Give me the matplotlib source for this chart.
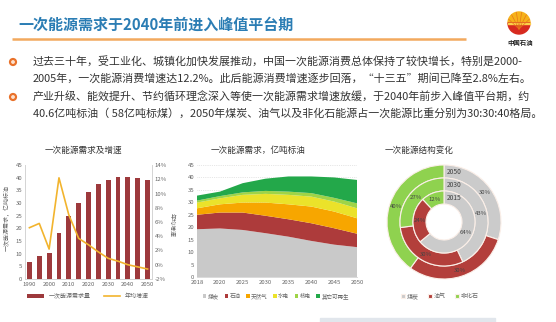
import matplotlib
matplotlib.use("Agg")
import matplotlib.pyplot as plt
from matplotlib.patches import Circle, Wedge, Rectangle
import numpy as np

plt.rcParams['font.family'] = ['Noto Sans CJK SC', 'DejaVu Sans']
plt.rcParams['axes.unicode_minus'] = False

W, H = 556, 322

# --- texts
title = "一次能源需求于2040年前进入峰值平台期"
bullet_lines = [
    "过去三十年，受工业化、城镇化加快发展推动，中国一次能源消费总体保持了较快增长，特别是2000-",
    "2005年，一次能源消费增速达12.2%。此后能源消费增速逐步回落，“十三五”期间已降至2.8%左右。",
    "产业升级、能效提升、节约循环理念深入等使一次能源需求增速放缓，于2040年前步入峰值平台期，约",
    "40.6亿吨标油（ 58亿吨标煤），2050年煤炭、油气以及非化石能源占一次能源比重分别为30:30:40格局。",
]
sub_titles = ["一次能源需求及增速", "一次能源需求，亿吨标油", "一次能源结构变化"]

# --- chart 1: demand bars + growth line
years1 = ['1990', '1995', '2000', '2005', '2010', '2015', '2020',
          '2025', '2030', '2035', '2040', '2045', '2050']
demand = [6.8, 9.1, 10.1, 18.3, 25.0, 30.1, 34.5, 37.5, 39.1, 40.4, 40.4, 40.0, 39.1]
growth = [5.2, 5.8, 2.2, 12.2, 7.0, 3.7, 2.8, 1.8, 0.9, 0.5, 0.0, -0.3, -0.6]

# --- chart 2: demand by source (stacked)
years2 = ['2018', '2020', '2025', '2030', '2035', '2040', '2045', '2050']
coal = [19.2, 19.5, 18.9, 17.6, 16.2, 14.5, 13.0, 12.0]
oil = [5.8, 6.4, 7.0, 7.0, 7.0, 7.1, 6.6, 5.4]
gas = [2.6, 3.3, 4.0, 5.3, 6.0, 6.7, 6.7, 6.2]
hydro = [2.3, 2.4, 3.1, 3.5, 3.8, 4.0, 4.0, 4.0]
nuclear = [0.8, 0.9, 1.0, 1.2, 1.3, 1.4, 1.5, 2.0]
renew = [2.0, 1.8, 3.7, 4.9, 6.1, 6.7, 8.2, 9.4]
source_labels = ['煤炭', '石油', '天然气', '水电', '核电', '其它可再生']
source_colors = ['#c9c9c9', '#ad3b3b', '#f7a600', '#ebe22a', '#9fd447', '#23a84a']

# --- chart 3: structure rings
ring_years = ['2050', '2030', '2015']
share_2050 = [30, 30, 40]
share_2030 = [43, 30, 27]
share_2015 = [64, 24, 12]
mix_labels = ['煤炭', '油气', '非化石']
mix_colors = ['#cbcbcb', '#b33f3b', '#8fd24f']

tick_col = '#666666'
spine_col = '#d4d4d4'


def rect(x0, y0, x1, y1):
    return [x0 / W, 1 - y1 / H, (x1 - x0) / W, (y1 - y0) / H]


fig = plt.figure(figsize=(W / 100, H / 100), dpi=100)
fig.patch.set_facecolor('white')

# background layer in pixel coordinates
bg = fig.add_axes([0, 0, 1, 1])
bg.set_xlim(0, W)
bg.set_ylim(H, 0)
bg.axis('off')

bg.text(18, 25, title, fontsize=10.8, fontweight='bold', color='#2b7db4', va='center')
bg.plot([12, 466], [39, 39], color='#f2a95e', lw=1.8, solid_capstyle='butt')

# logo
bg.add_patch(Wedge((519, 23), 11, 180, 360, color='#f6b21a'))
bg.add_patch(Wedge((519, 23), 11, 0, 180, color='#d72a1f'))
for ang in np.linspace(200, 340, 6):
    a = np.deg2rad(ang)
    bg.plot([519, 519 + 11 * np.cos(a)], [29, 23 + 11 * np.sin(a)],
            color='#e7791a', lw=0.5)
bg.add_patch(Rectangle((508, 22.5), 22, 1.2, color='#fbd24a'))
bg.text(520, 42, "中国石油", fontsize=4.6, fontweight='bold', color='#222222',
        ha='center', va='center')

# bullets
line_y = [62, 78, 97, 113]
for y in (line_y[0], line_y[2]):
    bg.add_patch(Circle((13, y), 3.4, color='#e9712a'))
    bg.add_patch(Circle((13, y), 1.2, color='#fde3cf'))
for y, txt in zip(line_y, bullet_lines):
    bg.text(33, y, txt, fontsize=7.9, color='#333333', va='center')

for x, txt in zip([83, 258, 419], sub_titles):
    bg.text(x, 150, txt, fontsize=6.2, color='#333333', ha='center', va='center')

bg.add_patch(Rectangle((320, 318), 175, 4, color='#e1e6ec'))


def style_axis(ax):
    ax.tick_params(length=0, labelsize=4.3, labelcolor=tick_col, pad=2)
    for s in ax.spines.values():
        s.set_color(spine_col)
        s.set_linewidth(0.6)
    ax.spines['top'].set_visible(False)


# chart 1
ax1 = fig.add_axes(rect(25, 165, 152, 279))
x1 = np.arange(len(years1))
bars = ax1.bar(x1, demand, width=0.5, color='#9d393c', zorder=2, label='一次能源需求量')
ax1.set_xlim(-0.45, len(x1) - 0.55)
ax1.set_ylim(0, 45)
ax1.set_yticks(range(0, 46, 5))
ax1.set_xticks(x1[::2])
ax1.set_xticklabels(years1[::2])
style_axis(ax1)
ax1r = ax1.twinx()
line, = ax1r.plot(x1, growth, color='#f2b42e', lw=1.2, label='年均增速')
ax1r.set_ylim(-2, 14)
ax1r.set_yticks(range(-2, 15, 2))
ax1r.set_yticklabels([f'{v}%' for v in range(-2, 15, 2)])
style_axis(ax1r)
bg.text(7, 218, "一次能源需求，亿吨标油", fontsize=4.3, color=tick_col,
        rotation=90, ha='center', va='center')
bg.text(172, 225, "年均增速", fontsize=4.3, color=tick_col,
        rotation=270, ha='center', va='center')
ax1.legend([bars, line], ['一次能源需求量', '年均增速'], loc='center', ncol=2,
           bbox_to_anchor=(88 / W, 1 - 296 / H), bbox_transform=fig.transFigure,
           frameon=False, fontsize=4.3, handlelength=2.8, handleheight=0.5,
           columnspacing=2.2, labelcolor=tick_col)

# chart 2
ax2 = fig.add_axes(rect(197, 165, 357, 277))
x2 = np.arange(len(years2))
ax2.stackplot(x2, coal, oil, gas, hydro, nuclear, renew,
              colors=source_colors, labels=source_labels, zorder=2)
ax2.set_xlim(0, len(x2) - 1)
ax2.set_ylim(0, 45)
ax2.set_yticks(range(0, 46, 5))
ax2.set_xticks(x2)
ax2.set_xticklabels(years2)
ax2.yaxis.grid(True, ls=':', color='#cfcfcf', lw=0.5, zorder=0)
style_axis(ax2)
ax2.spines['left'].set_visible(False)
ax2.spines['right'].set_visible(False)
ax2.legend(loc='center', ncol=6, bbox_to_anchor=(276 / W, 1 - 296 / H),
           bbox_transform=fig.transFigure, frameon=False, fontsize=4.0,
           handlelength=0.6, handleheight=0.6, handletextpad=0.3,
           columnspacing=1.0, labelcolor=tick_col)

# chart 3
ax3 = fig.add_axes(rect(444 - 62, 222 - 62, 444 + 62, 222 + 62))
wedges = None
for r, yr, shares in zip([57, 44, 31], ring_years, [share_2050, share_2030, share_2015]):
    w, _, _ = ax3.pie(shares, radius=r, startangle=90, counterclock=False,
                      colors=mix_colors, autopct='%.0f%%', pctdistance=(r - 6.5) / r,
                      wedgeprops=dict(width=13, edgecolor='#fbefe8', linewidth=0.8),
                      textprops=dict(fontsize=4.3, color='#444444'))
    ax3.text(3, r - 6.5, yr, fontsize=4.8, color='#444444', ha='left', va='center')
    wedges = w
ax3.set_xlim(-62, 62)
ax3.set_ylim(-62, 62)
ax3.set_aspect('equal')
ax3.axis('off')
ax3.legend(wedges, mix_labels, loc='center', ncol=3,
           bbox_to_anchor=(440 / W, 1 - 296 / H), bbox_transform=fig.transFigure,
           frameon=False, fontsize=4.3, handlelength=0.6, handleheight=0.6,
           handletextpad=0.3, columnspacing=1.6, labelcolor=tick_col)

fig.savefig('out.png', dpi=100)
